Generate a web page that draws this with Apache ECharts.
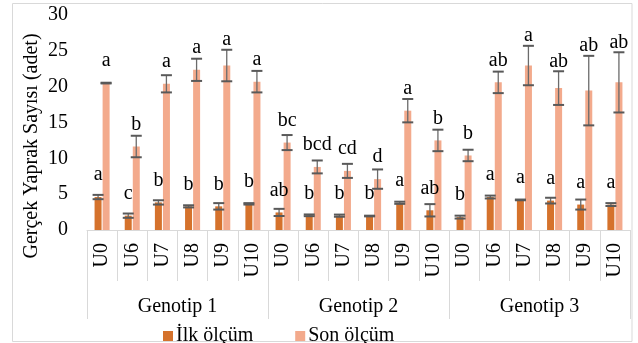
<!DOCTYPE html>
<html>
<head>
<meta charset="utf-8">
<script src="https://cdn.jsdelivr.net/npm/echarts@6/dist/echarts.min.js"></script>
<style>html,body{margin:0;padding:0;background:#fff}#c{width:638px;height:343px}</style>
</head>
<body>
<div id="c"></div>
<script>
const categories = ['U0','U6','U7','U8','U9','U10','U0','U6','U7','U8','U9','U10','U0','U6','U7','U8','U9','U10'];
const groups = ['Genotip 1','Genotip 2','Genotip 3'];
const ilk = [4.6, 2.0, 3.85, 3.3, 3.3, 3.65, 2.45, 2.05, 2.0, 1.95, 3.8, 2.75, 1.8, 4.6, 4.2, 4.1, 3.55, 3.55];
const ilkErr = [0.3, 0.3, 0.3, 0.15, 0.45, 0.1, 0.5, 0.12, 0.15, 0.05, 0.15, 0.86, 0.2, 0.2, 0.05, 0.4, 0.7, 0.2];
const son = [20.5, 11.65, 20.4, 22.35, 22.95, 20.7, 12.2, 8.8, 8.25, 7.1, 16.65, 12.5, 10.4, 20.6, 22.95, 19.8, 19.45, 20.6];
const sonErr = [0.05, 1.5, 1.2, 1.55, 2.2, 1.5, 1.05, 0.9, 0.98, 1.35, 1.63, 1.5, 0.8, 1.5, 2.75, 2.35, 4.85, 4.2];
const ilkLetters = ['a','c','b','b','b','b','ab','b','b','b','a','ab','b','a','a','a','a','a'];
const sonLetters = ['a','b','a','a','a','a','bc','bcd','cd','d','a','b','b','ab','a','ab','ab','ab'];
const yTicks = [0, 5, 10, 15, 20, 25, 30];

const FONT = '"Liberation Serif", "Times New Roman", serif';
const C_ILK = '#D5722C', C_SON = '#F3AA8C';

function errSeries(name, vals, errs, letters, off) {
  return {
    type: 'custom', name: name + ' err', xAxisIndex: 0, z: 5,
    data: vals.map((v, i) => [i, v, errs[i]]),
    renderItem: function (params, api) {
      const i = api.value(0), m = api.value(1), e = api.value(2);
      const c = api.coord([i, m]);
      const t = api.coord([i, m + e]);
      const b = api.coord([i, m - e]);
      const x = c[0] + off;
      const cw = 5.5;
      const ly = Math.min(c[1] - 16, t[1] - 4) + 4;
      return {
        type: 'group',
        children: [
          {type: 'line', shape: {x1: x, y1: t[1], x2: x, y2: b[1]}, style: {stroke: '#6b6b6b', lineWidth: 1.3}},
          {type: 'line', shape: {x1: x - cw, y1: t[1], x2: x + cw, y2: t[1]}, style: {stroke: '#595959', lineWidth: 2}},
          {type: 'line', shape: {x1: x - cw, y1: b[1], x2: x + cw, y2: b[1]}, style: {stroke: '#595959', lineWidth: 2}},
          {type: 'text', style: {text: letters[params.dataIndex], x: x, y: ly, align: 'center', verticalAlign: 'bottom', fontSize: 20, fontFamily: FONT, fill: '#000'}}
        ]
      };
    }
  };
}

const chart = echarts.init(document.getElementById('c'), null, {renderer: 'canvas'});
chart.setOption({
  animation: false,
  textStyle: {fontFamily: FONT},
  grid: {left: 87, right: 8, top: 15, bottom: 113},
  legend: {
    data: ['İlk ölçüm', 'Son ölçüm'], left: 158, top: 321, itemWidth: 10, itemHeight: 10, itemGap: 42,
    icon: 'rect', textStyle: {fontSize: 20, fontFamily: FONT, color: '#000', padding: [0, 0, 0, -2]}
  },
  xAxis: [
    {type: 'category', data: categories, position: 'bottom',
     axisLine: {show: true, lineStyle: {color: '#d9d9d9', width: 1}},
     axisTick: {show: true, length: 51, interval: 0, lineStyle: {color: '#d9d9d9', width: 1}},
     axisLabel: {rotate: 90, interval: 0, margin: 13, fontSize: 20, fontFamily: FONT, color: '#000'}},
    {type: 'category', data: groups, position: 'bottom',
     axisLine: {show: false},
     axisTick: {show: true, length: 89, interval: 0, lineStyle: {color: '#d9d9d9', width: 1}},
     axisLabel: {interval: 0, margin: 67, fontSize: 20, fontFamily: FONT, color: '#000'}}
  ],
  yAxis: {type: 'value', min: yTicks[0], max: yTicks[yTicks.length - 1], interval: 5,
    axisLine: {show: false}, axisTick: {show: false}, splitLine: {show: false},
    axisLabel: {margin: 19, fontSize: 20, fontFamily: FONT, color: '#000'}},
  graphic: [
    {type: 'rect', shape: {x: 12.5, y: 3.5, width: 619.5, height: 338}, style: {fill: 'none', stroke: '#d9d9d9', lineWidth: 1}, silent: true},
    {type: 'text', x: 32, y: 146, rotation: Math.PI / 2,
     style: {text: 'Gerçek Yaprak Sayısı (adet)', align: 'center', verticalAlign: 'middle', fontSize: 20, fontFamily: FONT, fill: '#000'}}
  ],
  series: [
    {type: 'bar', name: 'İlk ölçüm', data: ilk, xAxisIndex: 0, barWidth: 7, barGap: '15%', itemStyle: {color: C_ILK}},
    {type: 'bar', name: 'Son ölçüm', data: son, xAxisIndex: 0, barWidth: 7, barGap: '15%', itemStyle: {color: C_SON}},
    errSeries('İlk', ilk, ilkErr, ilkLetters, -4),
    errSeries('Son', son, sonErr, sonLetters, 4)
  ]
});
</script>
</body>
</html>
